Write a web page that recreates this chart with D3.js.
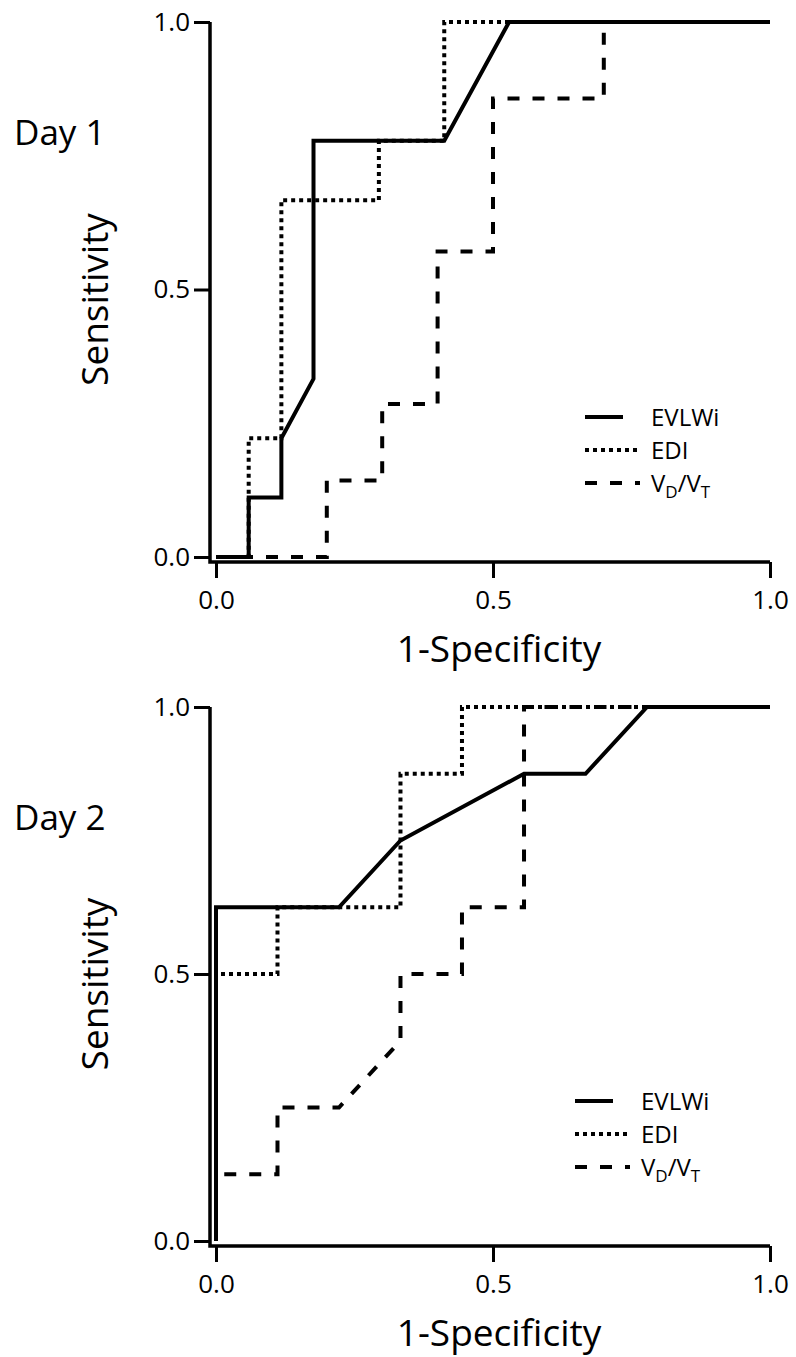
<!DOCTYPE html>
<html>
<head>
<meta charset="utf-8">
<script src="https://cdn.jsdelivr.net/npm/d3@7"></script>
<style>
  body { margin: 0; background: #fff; }
  svg text { font-family: "Open Sans", "Noto Sans", sans-serif; fill: #000; }
</style>
</head>
<body>
<div id="chart"></div>
<script>
// tick values shared by both panels
var xTicks = [0, 0.5, 1];
var yTicks = [0, 0.5, 1];
var seriesNames = ["EVLWi", "EDI", "VD/VT"];

// Day 1 curves (1-specificity, sensitivity)
var day1EvlwiX = [0, 0.059, 0.059, 0.118, 0.118, 0.176, 0.176, 0.412, 0.529, 1];
var day1EvlwiY = [0, 0, 0.111, 0.111, 0.222, 0.333, 0.778, 0.778, 1, 1];
var day1EdiX = [0, 0.059, 0.059, 0.118, 0.118, 0.294, 0.294, 0.412, 0.412, 1];
var day1EdiY = [0, 0, 0.222, 0.222, 0.667, 0.667, 0.778, 0.778, 1, 1];
var day1VdvtX = [0, 0.2, 0.2, 0.3, 0.3, 0.4, 0.4, 0.5, 0.5, 0.7, 0.7, 1];
var day1VdvtY = [0, 0, 0.143, 0.143, 0.286, 0.286, 0.571, 0.571, 0.857, 0.857, 1, 1];

// Day 2 curves
var day2EvlwiX = [0, 0, 0.222, 0.333, 0.556, 0.667, 0.778, 1];
var day2EvlwiY = [0, 0.625, 0.625, 0.75, 0.875, 0.875, 1, 1];
var day2EdiX = [0, 0, 0.111, 0.111, 0.333, 0.333, 0.444, 0.444, 1];
var day2EdiY = [0, 0.5, 0.5, 0.625, 0.625, 0.875, 0.875, 1, 1];
var day2VdvtX = [0, 0, 0.111, 0.111, 0.222, 0.333, 0.333, 0.444, 0.444, 0.556, 0.556, 1];
var day2VdvtY = [0, 0.125, 0.125, 0.25, 0.25, 0.375, 0.5, 0.5, 0.625, 0.625, 1, 1];

var W = 796, H = 1357;

// line styles per series
var dashes = {"EVLWi": null, "EDI": "4,4", "VD/VT": "12,13"};

var svg = d3.select("#chart").append("svg")
    .attr("width", W)
    .attr("height", H);

function zip(xs, ys) {
    return xs.map(function (x, i) { return [x, ys[i]]; });
}

/**
 * Draws one ROC panel.
 */
function drawPanel(p) {
    var xScale = d3.scaleLinear().domain([0, 1]).range([216, 770]);
    var yScale = d3.scaleLinear().domain([0, 1]).range([p.y0, p.y1]);

    var g = svg.append("g");

    var axisX = xScale(0) - 6;      // y axis sits a little left of x=0
    var axisY = yScale(0) + 5;      // x axis sits a little below y=0

    // y axis
    var yAx = g.append("g")
        .attr("transform", "translate(" + axisX + ",0)")
        .call(d3.axisLeft(yScale).tickValues(yTicks).tickFormat(d3.format(".1f"))
            .tickSize(16).tickSizeOuter(0).tickPadding(4));
    yAx.select(".domain").remove();
    yAx.selectAll("line").attr("stroke", "#000").attr("stroke-width", 3);
    yAx.selectAll("text").style("font-size", "26px");

    // x axis
    var xAx = g.append("g")
        .attr("transform", "translate(0," + axisY + ")")
        .call(d3.axisBottom(xScale).tickValues(xTicks).tickFormat(d3.format(".1f"))
            .tickSize(16).tickSizeOuter(0).tickPadding(13));
    xAx.select(".domain").remove();
    xAx.selectAll("line").attr("stroke", "#000").attr("stroke-width", 3);
    xAx.selectAll("text").style("font-size", "26px");

    // axis lines meeting at the corner
    g.append("path")
        .attr("d", "M" + axisX + "," + yScale(1) + "V" + axisY + "H" + xScale(1))
        .attr("fill", "none")
        .attr("stroke", "#000")
        .attr("stroke-width", 3.5);

    // curves
    var line = d3.line()
        .x(function (d) { return xScale(d[0]); })
        .y(function (d) { return yScale(d[1]); });

    p.series.forEach(function (s) {
        g.append("path")
            .datum(s.points)
            .attr("d", line)
            .attr("fill", "none")
            .attr("stroke", "#000")
            .attr("stroke-width", 4)
            .attr("stroke-dasharray", dashes[s.name]);
    });

    // axis titles
    g.append("text")
        .attr("x", xScale(0.5) + 6)
        .attr("y", axisY + 100)
        .attr("text-anchor", "middle")
        .style("font-size", "37px")
        .text("1-Specificity");

    g.append("text")
        .attr("transform", "translate(108," + (yScale(0.5) + 10) + ")rotate(-90)")
        .attr("text-anchor", "middle")
        .style("font-size", "37px")
        .text("Sensitivity");

    // day label
    g.append("text")
        .attr("x", 14)
        .attr("y", yScale(p.labelAt))
        .style("font-size", "35px")
        .text(p.label);

    // legend
    seriesNames.forEach(function (name, i) {
        var ly = p.legendY + i * 33;
        var len = name === "EVLWi" ? 38 : 55;
        g.append("line")
            .attr("x1", p.legendX)
            .attr("x2", p.legendX + len)
            .attr("y1", ly)
            .attr("y2", ly)
            .attr("stroke", "#000")
            .attr("stroke-width", 4)
            .attr("stroke-dasharray", dashes[name]);
        var t = g.append("text")
            .attr("x", p.legendX + 66)
            .attr("y", ly + 9)
            .style("font-size", "24px");
        if (name === "VD/VT") {
            t.append("tspan").text("V");
            t.append("tspan").attr("dy", 6).style("font-size", "17px").text("D");
            t.append("tspan").attr("dy", -6).text("/V");
            t.append("tspan").attr("dy", 6).style("font-size", "17px").text("T");
        } else {
            t.text(name);
        }
    });
}

drawPanel({
    y0: 557, y1: 22, label: "Day 1", labelAt: 0.77,
    legendX: 585, legendY: 417,
    series: [
        {name: "VD/VT", points: zip(day1VdvtX, day1VdvtY)},
        {name: "EDI", points: zip(day1EdiX, day1EdiY)},
        {name: "EVLWi", points: zip(day1EvlwiX, day1EvlwiY)}
    ]
});

drawPanel({
    y0: 1241, y1: 707, label: "Day 2", labelAt: 0.77,
    legendX: 575, legendY: 1101,
    series: [
        {name: "VD/VT", points: zip(day2VdvtX, day2VdvtY)},
        {name: "EDI", points: zip(day2EdiX, day2EdiY)},
        {name: "EVLWi", points: zip(day2EvlwiX, day2EvlwiY)}
    ]
});
</script>
</body>
</html>
